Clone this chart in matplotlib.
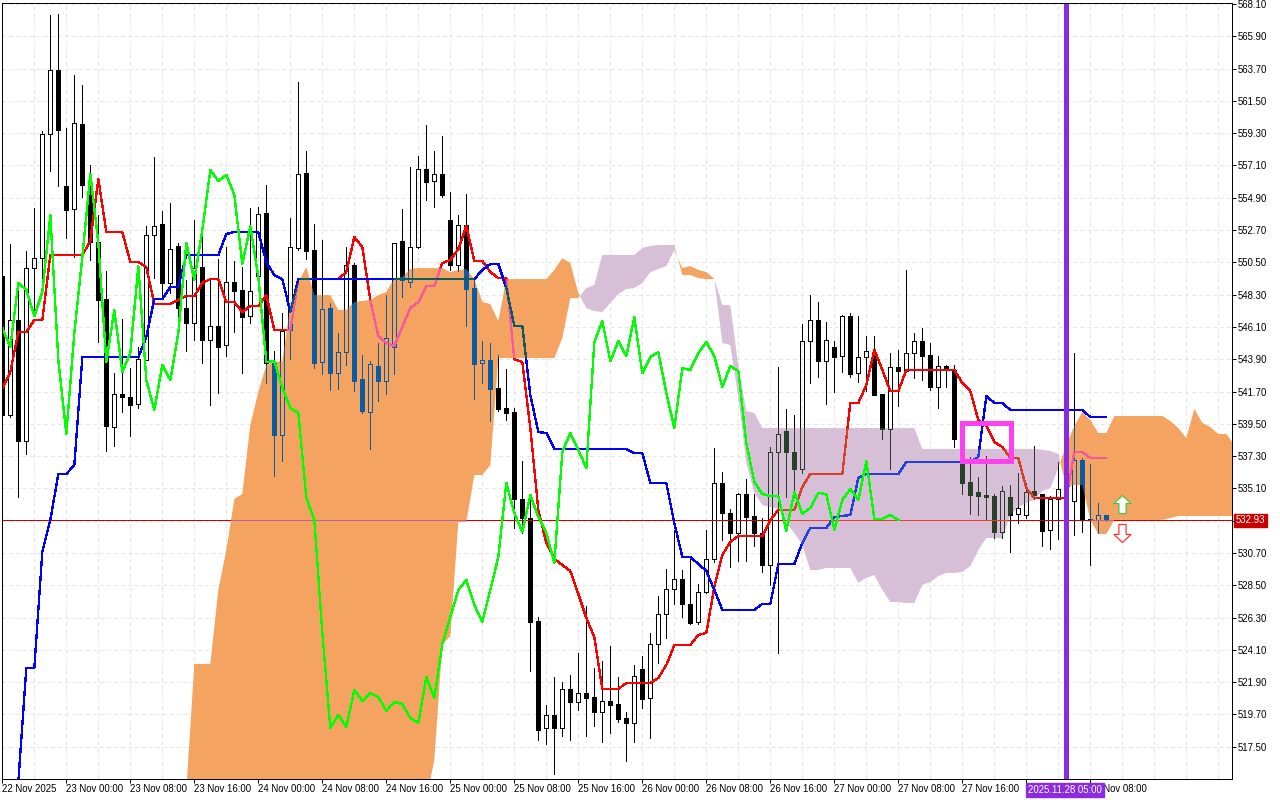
import numpy as np
import matplotlib
matplotlib.use("Agg")
import matplotlib.pyplot as plt
from matplotlib.collections import PolyCollection
from matplotlib.path import Path
from matplotlib.patches import Rectangle
from matplotlib.transforms import blended_transform_factory

opens = [549.57,540.10,546.57,538.33,550.11,550.79,559.24,563.60,555.70,554.13,559.92,555.22,551.88,548.00,539.28,541.53,541.33,540.85,543.85,552.36,
553.11,549.09,551.61,547.39,546.37,550.18,545.21,546.16,544.87,549.16,548.62,546.84,549.57,553.86,543.64,538.74,545.89,551.48,556.59,551.34,
543.71,547.39,542.96,544.39,550.32,542.55,540.30,543.44,542.42,544.73,551.95,549.16,551.54,556.86,556.04,556.52,553.38,550.32,553.04,548.75,
543.64,543.85,541.94,540.58,540.30,534.38,533.08,526.07,518.78,519.66,518.78,521.44,520.55,521.16,520.89,519.87,520.62,520.41,519.46,519.12,
522.80,520.82,524.50,526.54,528.25,528.93,527.23,526.00,528.04,530.29,535.47,533.42,532.06,534.72,533.22,532.06,529.88,537.58,539.01,537.58,
536.42,545.14,546.57,543.78,544.73,544.12,546.84,542.96,544.05,544.39,541.53,539.15,543.37,543.10,544.32,545.14,544.19,542.01,543.44,543.17,
536.90,535.54,534.85,534.65,534.58,532.13,534.51,533.36,533.29,534.92,534.72,532.27,534.38,535.06,534.24,537.03,533.02,532.95,533.29]
highs = [549.57,551.75,548.62,551.27,554.20,559.45,567.35,567.42,559.65,563.26,562.58,557.13,553.72,549.91,542.96,546.64,543.30,544.73,552.97,557.68,
554.00,554.54,551.82,549.30,553.38,552.43,549.36,550.73,551.54,550.59,550.18,554.20,554.27,555.77,544.46,547.05,553.52,562.78,558.08,553.11,
552.02,547.73,545.69,551.54,550.45,544.19,543.78,545.00,548.27,551.82,554.13,556.99,557.74,559.85,558.08,559.11,555.29,553.72,555.15,549.36,
545.14,545.00,544.19,543.23,540.58,536.97,534.31,526.34,520.35,522.25,521.91,522.39,523.89,527.09,522.87,523.34,524.36,522.25,519.87,523.07,
523.68,525.25,527.77,529.61,532.27,529.54,530.36,528.59,532.27,537.85,536.22,533.70,534.79,535.74,534.72,533.08,537.92,543.37,540.51,540.10,
546.30,548.27,547.80,546.44,545.14,546.91,547.05,546.84,545.48,545.48,541.53,544.32,544.53,549.98,545.69,546.03,545.00,544.12,543.51,543.51,
538.06,537.24,535.88,537.31,534.72,535.26,535.33,536.15,535.47,537.99,534.72,534.58,536.90,535.67,544.32,537.17,536.76,534.11,533.29]
lows = [540.10,539.96,534.51,537.44,547.05,549.16,556.72,555.70,552.16,550.86,554.95,550.66,545.07,537.65,537.99,540.30,538.67,540.58,543.85,549.43,
548.14,548.41,546.09,544.46,545.21,543.64,540.78,541.60,544.12,545.75,542.96,546.37,549.43,542.28,535.94,536.97,543.91,551.34,550.73,543.30,
542.89,541.80,541.87,543.51,541.73,540.24,537.78,541.05,541.53,542.89,548.14,548.82,551.48,554.75,554.27,554.95,549.98,549.91,546.16,541.19,
542.28,539.69,540.37,539.76,532.40,532.06,522.66,517.96,517.69,515.64,518.23,517.96,520.00,518.23,518.91,517.82,518.44,519.19,516.53,517.82,
520.14,518.10,523.21,524.91,527.23,526.34,525.86,525.86,527.97,530.09,531.59,529.75,530.15,530.15,531.18,529.40,528.52,523.89,534.51,534.51,
536.15,542.28,542.69,540.85,541.67,543.03,542.69,542.35,541.73,541.46,538.47,536.42,540.71,543.10,542.62,542.48,541.80,540.58,542.01,537.92,
534.72,533.36,533.29,532.95,531.72,531.72,530.77,532.74,533.08,534.38,531.18,530.97,531.65,533.97,531.93,532.13,529.88,532.06,532.88]
closes = [540.10,546.57,538.33,550.11,550.79,559.24,563.60,559.51,554.06,559.99,555.77,551.88,547.93,539.35,541.53,541.33,540.78,543.91,552.36,552.97,
549.09,551.41,547.39,546.37,550.11,545.21,546.16,544.73,549.16,548.55,546.78,548.55,553.79,543.64,538.74,545.82,551.54,556.52,551.27,543.64,
547.32,542.96,544.39,550.32,542.42,540.37,543.57,542.42,545.35,551.82,549.30,551.54,556.86,555.97,556.52,555.09,550.32,553.04,548.68,543.57,
543.85,541.87,540.51,540.24,534.38,533.08,526.00,518.64,519.66,518.78,521.44,520.55,521.16,520.82,519.87,520.62,520.35,519.39,519.12,522.32,
520.75,524.50,526.54,528.25,528.93,527.23,525.93,528.04,530.29,535.47,533.42,532.06,534.72,533.15,532.06,529.88,537.58,538.81,537.58,536.42,
545.14,546.57,543.78,545.21,544.05,546.84,542.89,544.05,544.46,541.46,539.15,543.37,543.10,544.32,545.14,544.12,542.01,543.44,543.17,538.47,
535.47,534.65,534.58,534.51,532.13,534.92,533.29,533.77,534.85,534.65,532.20,534.38,535.06,534.31,537.03,532.95,532.95,533.29,532.93]

tenkan = [541.94,543.03,545.75,545.75,546.57,546.57,551.00,551.00,551.00,551.00,551.00,551.95,556.18,552.57,552.57,552.57,550.52,550.52,550.18,547.66,
547.66,547.66,547.93,548.21,548.21,549.09,549.36,549.36,547.80,547.80,547.12,547.52,547.52,548.27,545.89,545.89,545.89,549.36,549.36,549.36,
549.36,549.36,549.36,549.84,552.23,551.54,547.93,545.48,545.00,544.80,546.09,547.39,547.80,548.89,548.89,550.45,550.66,551.41,552.97,550.59,
550.59,549.84,549.43,549.43,543.91,543.71,539.21,533.63,531.38,530.29,529.88,529.47,527.91,526.27,524.98,521.44,521.44,521.44,521.84,521.84,
521.84,521.84,522.18,523.07,524.43,524.43,524.43,525.11,525.25,528.38,530.56,531.45,531.86,531.86,531.86,531.86,532.95,533.63,533.63,533.63,
535.20,536.08,536.08,536.08,536.08,536.08,540.92,540.92,542.14,544.53,543.17,541.73,541.73,543.17,543.17,543.17,543.17,543.17,543.17,543.17,
542.28,541.73,539.76,539.35,538.26,537.92,537.17,537.17,535.13,534.45,534.45,534.45,534.45,534.45,537.58,537.58,537.17,537.17,537.17]

kijun_start = 2
kijun = [515.10,522.87,522.87,530.77,532.95,536.08,536.08,536.69,
544.05,544.05,544.05,544.05,544.05,544.05,544.05,544.05,545.41,548.00,548.00,548.82,548.82,
551.00,551.00,551.00,551.00,551.00,552.43,552.57,552.57,552.57,552.57,550.52,549.64,549.36,547.12,
549.36,549.36,549.36,549.36,549.36,549.36,549.36,549.36,549.36,549.36,549.36,549.36,549.36,549.36,549.36,549.36,549.36,549.36,549.36,549.36,549.36,549.36,549.36,
549.98,550.39,550.39,548.75,546.16,546.16,541.46,538.94,538.87,
537.78,537.78,537.78,537.78,537.78,537.78,537.78,537.78,537.78,537.78,537.51,537.51,535.47,535.47,535.47,532.74,530.43,530.43,529.95,529.47,528.18,
526.82,526.82,526.82,526.82,526.82,527.23,527.23,529.95,529.95,529.95,531.38,532.40,532.40,532.40,533.15,533.22,533.29,535.81,
536.08,536.08,536.08,536.08,536.08,536.90,536.90,536.90,536.90,536.90,536.90,536.90,536.90,536.90,537.24,541.39,540.92,540.92,
540.44,540.44,540.44,540.44,540.44,540.44,540.44,540.44,540.44,540.44,539.96,539.96,539.96]

chikou = [546.03,544.73,549.09,548.62,546.84,548.48,553.72,543.85,538.81,545.69,550.86,556.52,551.82,543.71,547.25,543.03,544.32,550.25,542.48,540.44,
543.51,542.48,545.69,551.82,549.30,552.70,556.79,556.04,556.45,555.09,550.39,552.97,549.50,543.71,543.78,541.94,540.58,540.24,534.45,532.95,
525.25,518.78,519.66,518.85,521.37,520.62,521.16,520.89,519.94,520.55,520.41,519.46,519.12,522.25,520.82,524.50,526.34,528.18,528.86,527.16,
526.00,528.18,530.43,535.47,533.42,532.13,534.65,533.15,532.06,530.02,537.58,538.87,537.72,536.49,545.07,546.50,543.78,545.14,544.12,546.78,
542.96,544.05,544.39,541.60,539.21,543.30,543.17,544.32,545.07,544.12,542.01,543.44,543.10,538.19,535.54,534.72,534.58,534.58,532.20,534.85,
533.36,533.77,534.79,534.72,532.27,534.31,535.06,534.31,536.97,533.02,533.02,533.29,532.95]

span_start = 23
span_a = [514.55,523.14,523.14,523.14,528.18,530.90,534.38,534.72,539.42,541.67,543.51,543.71,543.78,547.59,549.16,550.18,548.27,548.27,548.27,547.25,
547.25,547.80,547.87,547.93,548.27,548.48,549.43,549.50,550.05,550.11,550.11,550.11,550.11,549.84,549.98,550.05,549.36,547.80,547.66,546.50,
549.36,549.36,549.36,549.36,549.36,549.36,549.98,550.79,550.45,548.41,
547.39,547.18,547.12,547.73,548.34,548.68,548.75,549.09,549.84,550.05,550.25,551.34,
550.11,550.25,549.98,549.84,549.36,
545.00,544.87,541.33,536.83,534.79,533.97,533.83,533.70,532.74,532.06,531.24,529.54,529.54,529.68,529.68,529.68,529.68,528.66,529.00,529.20,528.18,527.36,527.36,527.29,527.29,
528.52,528.72,529.13,529.34,529.34,529.41,529.81,530.90,531.72,531.72,531.72,533.29,533.83,534.11,534.31,534.92,535.13,536.49,
538.06,539.35,540.30,539.76,538.87,538.87,540.03,540.03,540.03,540.03,540.03,540.03,540.03,539.69,539.21,538.53,540.51,539.56,539.28,538.81,538.81,538.06]
span_b = [513.87]*31 + [516.60,524.43,525.04,532.81,532.81,536.01,536.01,536.69,543.98,
543.98,543.98,543.98,543.98,543.98,543.98,543.98,545.35,548.07,548.07,
548.75,548.96,551.00,551.00,551.00,551.00,551.00,551.48,551.61,551.68,551.68,551.68,
549.64,549.64,549.43,549.36,549.36,
547.59,547.59,543.44,540.37,540.24] + [539.21]*20 + [537.78]*15 + [537.72,537.65,537.44,
535.20,535.33,535.33,532.95,531.99,531.99,532.95,532.95,532.95,532.95,532.95,532.95,532.95,533.08,533.22,533.22,533.22,533.22,533.22,533.22,533.22,533.22]

price_ticks = [568.10,565.90,563.70,561.50,559.30,557.10,554.90,552.70,550.50,548.30,546.10,543.90,541.70,539.50,537.30,535.10,532.90,530.70,528.50,526.30,524.10,521.90,519.70,517.50]
price_labels = ["568.10","565.90","563.70","561.50","559.30","557.10","554.90","552.70","550.50","548.30","546.10","543.90","541.70","539.50","537.30","535.10","","530.70","528.50","526.30","524.10","521.90","519.70","517.50"]
time_labels = ["22 Nov 2025","23 Nov 00:00","23 Nov 08:00","23 Nov 16:00","24 Nov 00:00","24 Nov 08:00","24 Nov 16:00","25 Nov 00:00","25 Nov 08:00","25 Nov 16:00","26 Nov 00:00","26 Nov 08:00","26 Nov 16:00","27 Nov 00:00","27 Nov 08:00","27 Nov 16:00","28 Nov 00:00","28 Nov 08:00"]
last_price = 532.93
cursor_bar = 133
cursor_label = "2025.11.28 05:00"
box_bars = (119.9, 126.1)
box_prices = (536.97, 539.55)
arrow_bar = 140
up_arrow_price = 534.04
down_arrow_price = 532.03

FONT = "Liberation Sans"
PX = 72/100
ORANGE = "#F4A460"; THISTLE = "#D8BFD8"

def xor(col):
    c = int(col[1:], 16)
    return ("#%06X" % (c ^ int(ORANGE[1:],16) ^ 0xFFFFFF), "#%06X" % (c ^ int(THISTLE[1:],16) ^ 0xFFFFFF))

fig = plt.figure(figsize=(12.8, 8), dpi=100, facecolor="white")
ax = fig.add_axes([2/1280, 21/800, 1230/1280, 776/800])
ax.set_xlim(-0.04, 153.71)
ax.set_ylim(515.30, 568.17)

sx = np.arange(span_start, span_start+len(span_a))
a = np.array(span_a); b = np.array(span_b)
fo = ax.fill_between(sx, a, b, where=a>=b, interpolate=True, color=ORANGE, lw=0, zorder=2)
ft = ax.fill_between(sx, a, b, where=a<=b, interpolate=True, color=THISTLE, lw=0, zorder=2)
clip_o = Path.make_compound_path(*fo.get_paths())
clip_t = Path.make_compound_path(*ft.get_paths())

def layered(draw, col, z):
    ao = draw(col); ao.set_zorder(z)
    co, ct = xor(col)
    b1 = draw(co); b1.set_zorder(z+.1); b1.set_clip_path(clip_o, ax.transData)
    b2 = draw(ct); b2.set_zorder(z+.1); b2.set_clip_path(clip_t, ax.transData)

# grid
gx = np.arange(4, 154, 4)
DASH = (0, (4, 3))
def grid_draw(col):
    return ax.vlines(gx, 515.30, 568.17, colors=col, lw=PX, linestyles=[DASH], antialiased=False)
def grid_draw_h(col):
    return ax.hlines(price_ticks, -0.04, 153.71, colors=col, lw=PX, linestyles=[DASH], antialiased=False)
layered(grid_draw, "#E6E6E6", 1.0)
layered(grid_draw_h, "#E6E6E6", 1.0)

# candles
x = np.arange(len(opens))
O, H, L, C = map(np.array, (opens, highs, lows, closes))
top = np.maximum(O, C); bot = np.minimum(O, C)
up = C > O
verts_up = [[(i-.25,bot[i]),(i+.25,bot[i]),(i+.25,top[i]),(i-.25,top[i])] for i in x if up[i]]
verts_dn = [[(i-.25,bot[i]),(i+.25,bot[i]),(i+.25,top[i]),(i-.25,top[i])] for i in x if not up[i]]
def wick_hi(col): return ax.vlines(x, top, H, colors=col, lw=PX, antialiased=False)
def wick_lo(col): return ax.vlines(x, L, bot, colors=col, lw=PX, antialiased=False)
def body_up(col):
    pc = PolyCollection(verts_up, facecolors="none", edgecolors=col, linewidths=PX, antialiaseds=False)
    ax.add_collection(pc); return pc
def body_dn(col):
    pc = PolyCollection(verts_dn, facecolors=col, edgecolors=col, linewidths=PX, antialiaseds=False)
    ax.add_collection(pc); return pc
for f in (wick_hi, wick_lo, body_up, body_dn):
    layered(f, "#000000", 3.0)

# last price
layered(lambda c: ax.axhline(last_price, color=c, lw=PX, antialiased=False), "#C80000", 3.5)

# indicator lines
kx = np.arange(kijun_start, kijun_start+len(kijun))
tx = np.arange(len(tenkan))
LW = 1.3*PX
layered(lambda c: ax.plot(tx, tenkan, color=c, lw=LW, antialiased=False, solid_joinstyle="round")[0], "#FF0000", 4.0)
layered(lambda c: ax.plot(kx, kijun, color=c, lw=LW, antialiased=False, solid_joinstyle="round")[0], "#0000FF", 4.5)
ax.plot(np.arange(len(chikou)), chikou, color="#00FF00", lw=LW, antialiased=False, zorder=5)

# objects
ax.axvline(cursor_bar, color="#8A2BE2", lw=5*PX, zorder=6, antialiased=False)
ax.add_patch(Rectangle((box_bars[0], box_prices[0]), box_bars[1]-box_bars[0], box_prices[1]-box_prices[0],
                       fill=False, ec="#FF40F0", lw=4.5*PX, zorder=6, joinstyle="miter", antialiased=False))
up_shape = Path([(0,1),(.95,.1),(.4,.1),(.4,-1),(-.4,-1),(-.4,.1),(-.95,.1),(0,1)], closed=True)
dn_shape = Path([(0,-1),(.95,-.1),(.4,-.1),(.4,1),(-.4,1),(-.4,-.1),(-.95,-.1),(0,-1)], closed=True)
ax.plot([arrow_bar],[up_arrow_price], marker=up_shape, ms=18*PX, mfc="white", mec="#3CC83C", mew=1.2*PX, zorder=7, ls="none")
ax.plot([arrow_bar],[down_arrow_price], marker=dn_shape, ms=18*PX, mfc="white", mec="#FF3030", mew=1.2*PX, zorder=7, ls="none")

# axes
for s in ax.spines.values():
    s.set_linewidth(PX); s.set_color("black"); s.set_zorder(10)
ax.yaxis.tick_right()
ax.set_yticks(price_ticks, price_labels, fontname=FONT, fontsize=6.9)
ax.tick_params(axis="y", length=4*PX, width=PX, pad=1.5)
ax.set_xticks(np.arange(0, 144, 8), time_labels, fontname=FONT, fontsize=6.9)
ax.tick_params(axis="x", length=4*PX, width=PX, pad=0.5)
for lab in ax.get_xticklabels():
    lab.set_horizontalalignment("left")

tr = blended_transform_factory(ax.transAxes, ax.transData)
ax.text(1.0032, last_price, "532.93", transform=tr, color="white", fontname=FONT, fontsize=6.9, va="center", ha="left",
        clip_on=False, zorder=12, bbox=dict(fc="#C80000", ec="#C80000", pad=1.2))
fig.text(1028/1280, 1-790/800, cursor_label, color="white", fontname=FONT, fontsize=6.9, va="center", ha="left", zorder=20,
         bbox=dict(fc="#8A2BE2", ec="#8A2BE2", pad=1.2))

fig.savefig("out.png", dpi=100)
